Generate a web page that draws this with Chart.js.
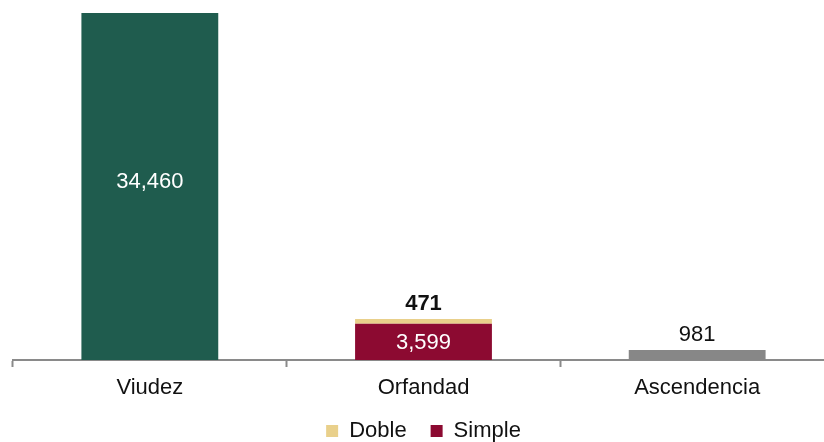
<!DOCTYPE html>
<html>
<head>
<meta charset="utf-8">
<script src="https://cdn.jsdelivr.net/npm/chart.js@4/dist/chart.umd.min.js"></script>
<style>
	html, body { margin: 0; padding: 0; background: #fff; overflow: hidden; }
	#wrap { width: 845px; height: 452px; }
</style>
</head>
<body>
<div id="wrap"><canvas id="canvas"></canvas></div>
<script>
const categories = ['Viudez', 'Orfandad', 'Ascendencia'];
const viudez = [34460, null, null];
const simple = [null, 3599, null];
const doble = [null, 471, null];
const ascendencia = [null, null, 981];

const font = 'Liberation Sans, Arial, sans-serif';

// draws the value labels (no datalabels plugin offline)
const valueLabels = {
	id: 'valueLabels',
	afterDatasetsDraw(chart) {
		const ctx = chart.ctx;
		ctx.save();
		ctx.textAlign = 'center';
		ctx.textBaseline = 'middle';
		chart.data.datasets.forEach((ds, i) => {
			const meta = chart.getDatasetMeta(i);
			meta.data.forEach((bar, j) => {
				const v = ds.data[j];
				if (v == null) return;
				const txt = v.toLocaleString('en-US');
				if (ds.labelPos === 'inside') {
					ctx.fillStyle = '#fff';
					ctx.font = '22px ' + font;
					ctx.fillText(txt, bar.x, (bar.y + bar.base) / 2 + (ds.labelShift || 0));
				} else {
					ctx.fillStyle = '#111';
					ctx.font = (ds.labelBold ? 'bold ' : '') + '22px ' + font;
					ctx.fillText(txt, bar.x, bar.y - 15);
				}
			});
		});
		ctx.restore();
	}
};

new Chart(document.getElementById('canvas'), {
	type: 'bar',
	data: {
		labels: categories,
		datasets: [
			{ label: 'Viudez', data: viudez, backgroundColor: '#1f5c4e', labelPos: 'inside', labelShift: -5 },
			{ label: 'Simple', data: simple, backgroundColor: '#8c0a31', labelPos: 'inside', labelShift: 1 },
			{ label: 'Doble', data: doble, backgroundColor: '#e9d08b', labelPos: 'above', labelBold: true },
			{ label: 'Ascendencia', data: ascendencia, backgroundColor: '#878787', labelPos: 'above' },
		]
	},
	options: {
		animation: false,
		responsive: true,
		maintainAspectRatio: false,
		layout: {
			padding: { top: 13, left: 13, right: 11, bottom: 0 }
		},
		plugins: {
			tooltip: { enabled: false },
			legend: {
				position: 'bottom',
				labels: {
					filter: (item) => item.text === 'Doble' || item.text === 'Simple',
					sort: (a, b) => (a.text === 'Doble' ? -1 : 1),
					boxWidth: 12,
					boxHeight: 12,
					padding: 24,
					color: '#111',
					font: { family: font, size: 22 }
				}
			}
		},
		datasets: {
			bar: {
				barPercentage: 0.5,
				categoryPercentage: 1,
				skipNull: true
			}
		},
		scales: {
			x: {
				stacked: true,
				afterFit: (scale) => { scale.height = 36; },
				grid: {
					drawOnChartArea: false,
					tickLength: 7,
					tickWidth: 2,
					tickColor: '#8a8a8a',
					offset: true
				},
				border: { color: '#8a8a8a', width: 2 },
				ticks: {
					color: '#111',
					padding: 8,
					font: { family: font, size: 22 }
				}
			},
			y: {
				stacked: true,
				display: false,
				min: 0,
				max: 34460
			}
		}
	},
	plugins: [valueLabels]
});
</script>
</body>
</html>
